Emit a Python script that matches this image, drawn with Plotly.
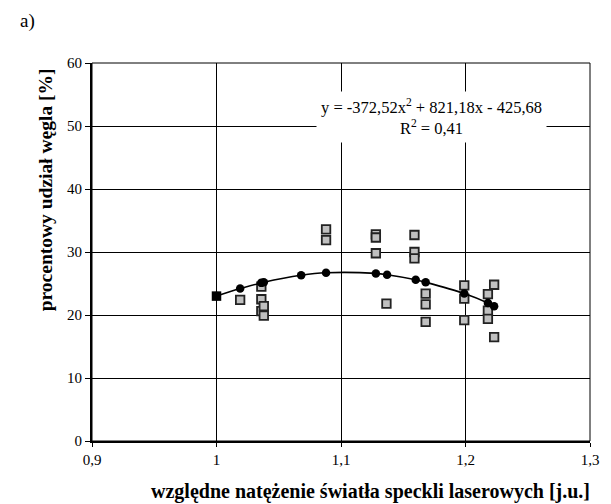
import plotly.graph_objects as go

# measured points (gray squares)
meas_x = [1.019, 1.036, 1.036, 1.036, 1.038, 1.038, 1.088, 1.088,
          1.128, 1.128, 1.128, 1.1365, 1.159, 1.159, 1.159,
          1.168, 1.168, 1.168, 1.199, 1.199, 1.199,
          1.218, 1.218, 1.218, 1.223, 1.223]
meas_y = [22.4, 24.5, 22.5, 20.6, 21.4, 19.9, 33.6, 31.9,
          32.8, 32.3, 29.8, 21.8, 32.7, 30.0, 29.0,
          23.4, 21.7, 18.9, 24.7, 22.6, 19.2,
          23.3, 20.7, 19.4, 24.8, 16.5]

# fitted points (black circles) on the trend line
fit_x = [1.0, 1.019, 1.036, 1.038, 1.068, 1.088, 1.128, 1.137,
         1.16, 1.168, 1.199, 1.218, 1.223]
fit_y = [23.0, 24.2, 25.1, 25.2, 26.3, 26.7, 26.6, 26.4,
         25.6, 25.2, 23.4, 21.9, 21.4]

# reference point (black square)
ref_x = [1.0]
ref_y = [23.0]

x_ticks = [0.9, 1.0, 1.1, 1.2, 1.3]
x_tick_text = ["0,9", "1", "1,1", "1,2", "1,3"]
y_ticks = [0, 10, 20, 30, 40, 50, 60]

equation = "y = -372,52x<sup>2</sup> + 821,18x - 425,68<br>R<sup>2</sup> = 0,41"

FONT = "Liberation Serif"

fig = go.Figure()
fig.add_trace(go.Scatter(
    x=meas_x, y=meas_y, mode="markers",
    marker=dict(symbol="square", size=8.5, color="#c0c0c0",
                line=dict(color="#222222", width=1.8)),
    showlegend=False, hoverinfo="x+y"))
fig.add_trace(go.Scatter(
    x=fit_x, y=fit_y, mode="lines+markers", line_shape="spline",
    line=dict(color="black", width=1.6),
    marker=dict(symbol="circle", size=8.5, color="black"),
    showlegend=False))
fig.add_trace(go.Scatter(
    x=ref_x, y=ref_y, mode="markers",
    marker=dict(symbol="square", size=9.5, color="black"),
    showlegend=False))

fig.update_layout(
    width=611, height=504,
    margin=dict(l=92, r=12, t=63, b=63),
    paper_bgcolor="white", plot_bgcolor="white",
    font=dict(family=FONT, size=15, color="black"),
    xaxis=dict(range=[0.9, 1.3], tickvals=x_ticks, ticktext=x_tick_text,
               showgrid=True, gridcolor="black", gridwidth=1,
               showline=True, linecolor="black", linewidth=2,
               ticks="outside", ticklen=4, tickcolor="black",
               zeroline=False, fixedrange=True,
               tickfont=dict(family=FONT, size=15)),
    yaxis=dict(range=[0, 60], tickvals=y_ticks,
               showgrid=True, gridcolor="black", gridwidth=1,
               showline=True, linecolor="black", linewidth=2,
               ticks="outside", ticklen=5, tickcolor="black",
               zeroline=False, fixedrange=True,
               tickfont=dict(family=FONT, size=15)),
    shapes=[dict(type="rect", xref="paper", yref="paper", x0=0, x1=1, y0=0, y1=1,
                 line=dict(color="black", width=1))],
    annotations=[
        dict(text=equation, xref="x", yref="y", x=1.173, y=51.4,
             showarrow=False, bgcolor="white", borderpad=4,
             font=dict(family=FONT, size=16.5), align="center"),
        dict(text="a)", xref="paper", yref="paper", x=-0.148, y=1.11,
             xanchor="left", yanchor="middle", showarrow=False,
             font=dict(family=FONT, size=19)),
        dict(text="<b>względne natężenie światła speckli laserowych [j.u.]</b>",
             xref="paper", yref="paper", x=1.004, y=-0.133,
             xanchor="right", yanchor="middle", showarrow=False,
             font=dict(family=FONT, size=20)),
        dict(text="<b>procentowy udział węgla [%]</b>",
             xref="paper", yref="paper", x=-0.093, y=0.665,
             xanchor="center", yanchor="middle", textangle=-90, showarrow=False,
             font=dict(family=FONT, size=19.5)),
    ],
)

fig.write_html("out.html")
